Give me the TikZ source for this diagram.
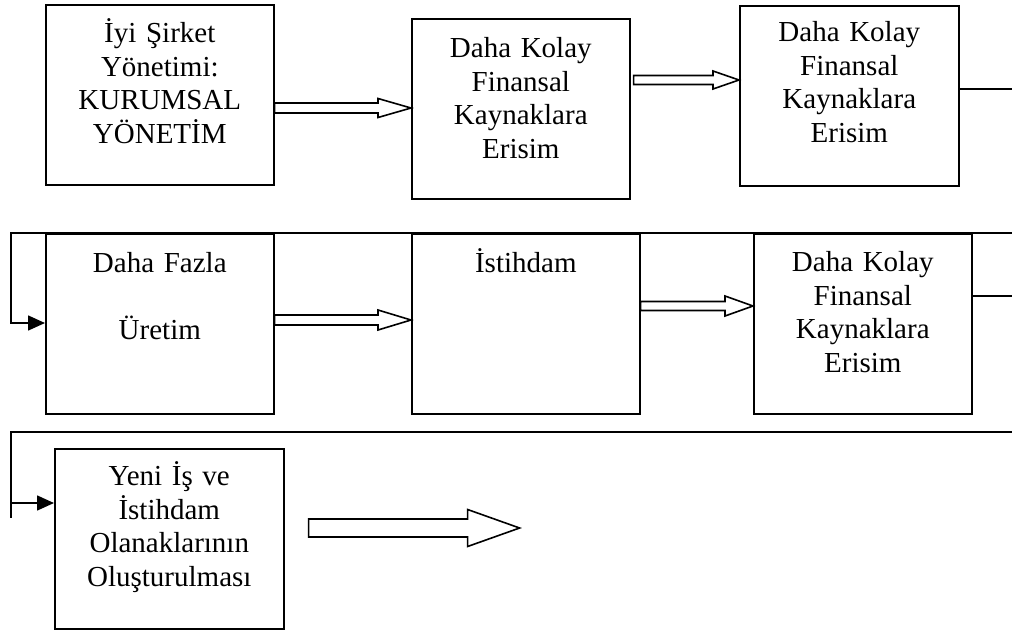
\documentclass[tikz,border=0pt]{standalone}
\usepackage{fontspec}
\setmainfont{Liberation Serif}
\usetikzlibrary{calc,arrows.meta}
\tikzset{
  box/.style={draw, line width=1.6pt, inner sep=0pt, align=center, anchor=north west,
    font=\fontsize{29}{33.5}\selectfont},
  conn/.style={line width=1.6pt},
  blk/.style={draw, line width=1.6pt, line join=miter, fill=white},
  tipconn/.style={conn, -{Triangle[length=17pt,width=15pt]}}
}
% #1 start, #2 tip, #3 shaft half width, #4 head half width, #5 head length
\newcommand\blkarrow[5]{%
  \draw[blk] ($(#1)+(0,-#3)$) -- ($(#2)+(-#5,-#3)$) -- ($(#2)+(-#5,-#4)$) -- (#2)
    -- ($(#2)+(-#5,#4)$) -- ($(#2)+(-#5,#3)$) -- ($(#1)+(0,#3)$) -- cycle;}
\begin{document}
\begin{tikzpicture}[x=1pt,y=-1pt]
\useasboundingbox (0,0) rectangle (1012,635);

% row 1
\node[box, text width=228pt, text height=38pt, text depth=142pt] (b1) at (45,4)
  {İyi Şirket\\Yönetimi:\\KURUMSAL\\YÖNETİM};
\node[box, text width=218pt, text height=39pt, text depth=141pt] (b2) at (411,18)
  {Daha Kolay\\Finansal\\Kaynaklara\\Erisim};
\node[box, text width=219pt, text height=36pt, text depth=144pt] (b3) at (739,5)
  {Daha Kolay\\Finansal\\Kaynaklara\\Erisim};

% row 2
\node[box, text width=228pt, text height=39pt, text depth=141pt] (b4) at (45,233)
  {Daha Fazla\\[33.5pt]Üretim};
\node[box, text width=228pt, text height=39pt, text depth=141pt] (b5) at (411,233)
  {İstihdam};
\node[box, text width=218pt, text height=38pt, text depth=142pt] (b6) at (753,233)
  {Daha Kolay\\Finansal\\Kaynaklara\\Erisim};

% row 3
\node[box, text width=229pt, text height=37pt, text depth=143pt] (b7) at (54,448)
  {Yeni İş ve\\İstihdam\\Olanaklarının\\Oluşturulması};

% block arrows
\coordinate (a1s) at ($(b1.north east)+(0,104)$);
\coordinate (a1t) at ($(b2.north west)+(0,90)$);
\blkarrow{a1s}{a1t}{5}{9.5}{33}
\coordinate (a2s) at ($(b2.north east)+(3,62)$);
\coordinate (a2t) at ($(b3.north west)+(0,75)$);
\blkarrow{a2s}{a2t}{4.5}{9}{26}
\coordinate (a3s) at ($(b4.north east)+(0,87)$);
\coordinate (a3t) at ($(b5.north west)+(0,87)$);
\blkarrow{a3s}{a3t}{5}{10}{33}
\coordinate (a4s) at ($(b5.north east)+(0,73)$);
\coordinate (a4t) at ($(b6.north west)+(0,73)$);
\blkarrow{a4s}{a4t}{4.5}{10}{28}
\coordinate (a5s) at ($(b7.north east)+(24,80)$);
\coordinate (a5t) at ($(b7.north east)+(235,80)$);
\blkarrow{a5s}{a5t}{9}{18.5}{52}

% return connectors
\coordinate (r1) at (1012,89);
\draw[conn] ($(b3.north east)+(0,84)$) -- (r1);

\coordinate (r2) at (1012,233);
\coordinate (l2) at (11,233);
\coordinate (e4) at ($(b4.north west)+(0,90)$);
\draw[tipconn] (r2) -- (l2) |- (e4);

\coordinate (r4) at (1012,296);
\draw[conn] ($(b6.north east)+(0,63)$) -- (r4);

\coordinate (r3) at (1012,432);
\coordinate (l3) at (11,432);
\coordinate (l3e) at (11,518);
\draw[conn] (r3) -- (l3) -- (l3e);
\coordinate (s7) at ($(b7.north west)+(-43,55)$);
\draw[tipconn] (s7) -- ($(b7.north west)+(0,55)$);
\end{tikzpicture}
\end{document}
